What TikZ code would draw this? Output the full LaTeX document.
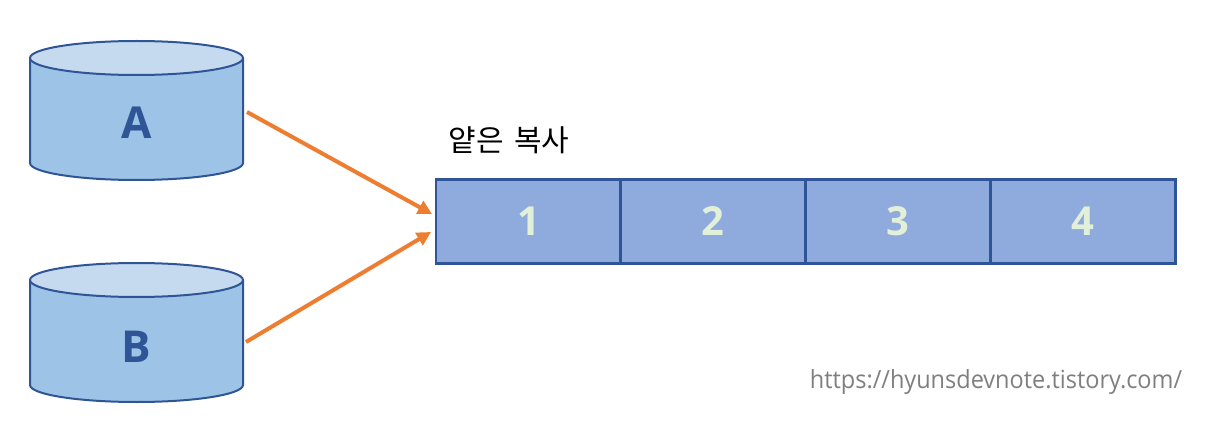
\documentclass[tikz,border=0pt]{standalone}
\usepackage{fontspec}
\setmainfont{Open Sans}
\newfontfamily\krfont{Noto Sans CJK KR}
\newfontfamily\urlfont[FakeStretch=0.94]{Open Sans}
\usetikzlibrary{arrows.meta}
\definecolor{edgeblue}{HTML}{2F5597}
\definecolor{bodyblue}{HTML}{9DC3E6}
\definecolor{topblue}{HTML}{C5DAEF}
\definecolor{cellblue}{HTML}{8FAADC}
\definecolor{numgreen}{HTML}{E2EFD9}
\definecolor{arroworange}{HTML}{ED7D31}
\definecolor{urlgray}{HTML}{7F7F7F}
\tikzset{
  db/.style={minimum width=213pt,minimum height=139pt,inner sep=0pt,outer sep=0pt},
  dbline/.style={draw=edgeblue,line width=2pt,line join=round},
  dblabel/.style={font=\fontsize{44}{44}\selectfont\bfseries,text=edgeblue,inner sep=0pt},
  cell/.style={draw=edgeblue,line width=2.2pt,fill=cellblue,minimum width=185pt,minimum height=84pt,inner sep=0pt,outer sep=0pt,
    font=\fontsize{40}{40}\selectfont\bfseries,text=numgreen},
  link/.style={draw=arroworange,line width=4pt,-{Triangle[length=14pt,width=14pt]}}
}
\newcommand{\dbdraw}[1]{%
  \path[dbline,fill=bodyblue] (#1.north west) ++(0,17) -- ++(0,105)
    arc[start angle=180,end angle=360,x radius=106.5,y radius=-17] -- ++(0,-105) -- cycle;
  \path[dbline,fill=topblue] (#1.north west) ++(0,17)
    arc[start angle=180,end angle=0,x radius=106.5,y radius=-17]
    arc[start angle=0,end angle=-180,x radius=106.5,y radius=-17] -- cycle;
}
\begin{document}
\begin{tikzpicture}[x=1pt,y=-1pt]
\useasboundingbox (0,0) rectangle (1211,433);
\node[db] (A) at (136.5,110.5) {};
\node[db] (B) at (136.5,332.5) {};
\dbdraw{A}
\dbdraw{B}
\node[dblabel] (Al) at (136.5,123) {A};
\node[dblabel] (Bl) at (136.5,347) {B};
\node[cell] (c1) at (528.5,221.5) {1};
\node[cell] (c2) at (713,221.5) {2};
\node[cell] (c3) at (898,221.5) {3};
\node[cell] (c4) at (1083,221.5) {4};
\node[font=\krfont\fontsize{30}{30}\selectfont,text=black,inner sep=0pt] (t) at (509,140) {얕은\hspace{4pt} 복사};
\node[font=\urlfont\fontsize{25}{25}\selectfont,text=urlgray,inner sep=0pt] (u) at (996,382) {https://hyunsdevnote.tistory.com/};
\coordinate (aout) at (247,112);
\coordinate (bout) at (246,342);
\coordinate (ain) at (432,214);
\coordinate (bin) at (431,232);
\draw[link] (aout) -- (ain);
\draw[link] (bout) -- (bin);
\end{tikzpicture}
\end{document}
